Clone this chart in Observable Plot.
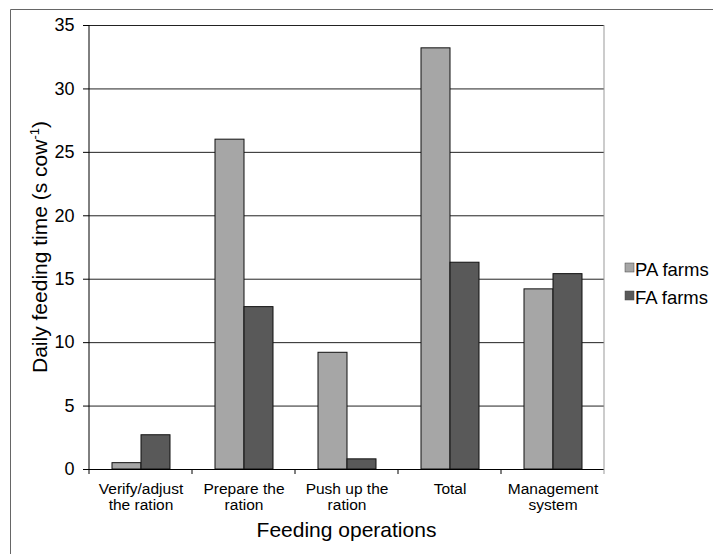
<!DOCTYPE html>
<html><head><meta charset="utf-8">
<script src="https://cdn.jsdelivr.net/npm/d3@7"></script>
<script src="https://cdn.jsdelivr.net/npm/@observablehq/plot@0.6"></script>
<style>
body{margin:0;background:#fff;}
svg{display:block;}
</style>
</head><body><div id="chart"></div>
<script>
const categories = ["Verify/adjust\nthe ration", "Prepare the\nration", "Push up the\nration", "Total", "Management\nsystem"];
const series = ["PA farms", "FA farms"];
const paValues = [0.5, 26.0, 9.2, 33.2, 14.2];
const faValues = [2.7, 12.8, 0.8, 16.3, 15.4];
const yTicks = [0, 5, 10, 15, 20, 25, 30, 35];
const colors = ["#a6a6a6", "#595959"];
const yTitle = "Daily feeding time (s cow";
const xTitle = "Feeding operations";

const data = categories.flatMap((c, i) => [
  {cat: c, series: series[0], value: paValues[i]},
  {cat: c, series: series[1], value: faValues[i]}
]);

const FONT = '"Liberation Sans", Arial, Helvetica, sans-serif';

const plot = Plot.plot({
  width: 713, height: 554,
  marginLeft: 89, marginRight: 109, marginTop: 25, marginBottom: 85,
  style: {fontFamily: FONT, fontSize: "17px", color: "#000", background: "#fff", overflow: "visible"},
  fx: {domain: categories, padding: 0, label: null},
  x: {domain: series, paddingInner: 0, paddingOuter: 0.746, axis: null},
  y: {domain: [0, 35], label: null},
  color: {domain: series, range: colors},
  marks: [
    Plot.gridY(yTicks.slice(1), {stroke: "#222", strokeOpacity: 1}),
    Plot.barY(data, {fx: "cat", x: "series", y: "value", fill: "series", stroke: "#111", strokeWidth: 1}),
    Plot.ruleY([0], {stroke: "#000"}),
    Plot.axisY(yTicks, {tickSize: 6, tickPadding: 9, fontSize: 18, label: null}),
    Plot.axisFx({anchor: "bottom", tickSize: 0, tickPadding: 13, fontSize: 15.5, lineHeight: 1.05, label: null})
  ]
});

document.getElementById("chart").appendChild(plot);

const svg = d3.select(plot);
const fx = plot.scale("fx"), y = plot.scale("y"), color = plot.scale("color");
const left = fx.apply(categories[0]);
const right = fx.apply(categories[categories.length - 1]) + fx.bandwidth;
const y0 = y.apply(0), yTop = y.apply(35);

// outer border
svg.append("path").attr("d", `M10.5,554V9.5H713`).attr("fill", "none").attr("stroke", "#666");

// y axis line and right edge
svg.append("line").attr("x1", left).attr("x2", left).attr("y1", yTop).attr("y2", y0).attr("stroke", "#000");
svg.append("line").attr("x1", right).attr("x2", right).attr("y1", yTop).attr("y2", y0 + 5).attr("stroke", "#999");

// boundary ticks on x axis
categories.forEach(c => {
  const bx = fx.apply(c);
  svg.append("line").attr("x1", bx).attr("x2", bx).attr("y1", y0).attr("y2", y0 + 5).attr("stroke", "#000");
});

// y title
const yt = svg.append("text")
  .attr("transform", `translate(47,${(y0 + yTop) / 2}) rotate(-90)`)
  .attr("text-anchor", "middle")
  .attr("font-family", FONT).attr("font-size", 21).attr("fill", "#000");
yt.append("tspan").text(yTitle);
yt.append("tspan").attr("dy", -8).attr("font-size", 13).text("-1");
yt.append("tspan").attr("dy", 8).text(")");

// x title
svg.append("text")
  .attr("x", (left + right) / 2).attr("y", 537)
  .attr("text-anchor", "middle")
  .attr("font-family", FONT).attr("font-size", 21).attr("fill", "#000")
  .text(xTitle);

// legend
series.forEach((s, i) => {
  const ly = 263 + i * 28;
  svg.append("rect").attr("x", 625).attr("y", ly).attr("width", 9).attr("height", 9)
    .attr("fill", color.apply(s)).attr("stroke", "#444").attr("stroke-width", 0.5);
  svg.append("text").attr("x", 635).attr("y", ly + 13)
    .attr("text-anchor", "start")
    .attr("font-family", FONT).attr("font-size", 18.5).attr("fill", "#000").text(s);
});
</script>
</body></html>
